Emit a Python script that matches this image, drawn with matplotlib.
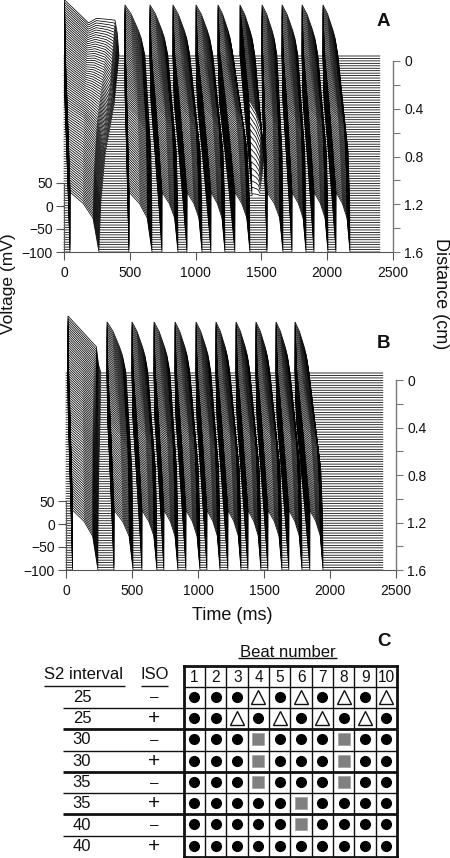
import numpy as np
import matplotlib
matplotlib.use("Agg")
import matplotlib.pyplot as plt

plt.rcParams['font.family'] = ['Liberation Sans', 'DejaVu Sans']

W, H = 450, 858
DIST = [0.02 * i for i in range(81)]
NODES_D = [0, 0.4, 0.8, 1.2, 1.6]
ACT_FRAC = [0, 0.10, 0.42, 0.72, 1]
REP_FRAC = [0, 0.42, 0.85, 0.98, 1]
FIRST_REP_FRAC = [0, 0.24, 0.68, 0.9, 1]

# panel A (ms); nan = beat blocked before the distal end
A_ACT_TOP = [4, 463, 653, 828, 1003, 1170, 1337, 1505, 1657, 1809, 1968]
A_REP_TOP = [418, 616, 790, 957, 1132, 1284, 1451, 1619, 1778, 1930, 2082]
A_ACT_BOT = [46, 494, 745, 935, 1117, 1299, np.nan, 1543, 1733, 1900, 2067]
A_REP_BOT = [266, 669, 866, 1049, 1223, 1413, np.nan, 1664, 1839, 2006, 2173]
A_FIRST_PH = [0, 0.44, 0.587, 0.926, 0.968, 1]
A_FIRST_V = [22, -28, -18, -22, -50, -100]

# panel B (ms)
B_ACT_TOP = [15, 311, 500, 667, 826, 985, 1136, 1288, 1439, 1591, 1735]
B_REP_TOP = [265, 455, 621, 788, 939, 1098, 1242, 1394, 1545, 1697, 1841]
B_ACT_BOT = [50, 364, 576, 742, 909, 1068, 1227, 1379, 1530, 1689, 1848]
B_REP_BOT = [242, 508, 689, 848, 1015, 1167, 1326, 1477, 1636, 1788, 1947]
B_FIRST_PH = [0, 0.86, 0.92, 1]
B_FIRST_V = [24, -43, -81, -100]

# action-potential shapes (phase of APD, mV)
TOP_PH = [0, 0.3, 0.62, 0.8, 1]
TOP_V = [11, -8, -39, -60, -100]
BOT_PH = [0, 0.45, 0.79, 1]
BOT_V = [30, 6, -26, -100]
BLOCK_D = 0.85      # panel A beat 7 dies out around here
BLOCK_END = 1.15
BLOCK_BEAT = 6
T = np.arange(0, 2401, 1.0)

X_TICKS = [0, 500, 1000, 1500, 2000, 2500]
V_TICKS = [-100, -50, 0, 50]
D_TICKS = [0, 0.2, 0.4, 0.6, 0.8, 1.0, 1.2, 1.4, 1.6]
D_LABELS = ['0', '', '0.4', '', '0.8', '', '1.2', '', '1.6']

S2 = ['25', '25', '30', '30', '35', '35', '40', '40']
ISO = ['–', '+', '–', '+', '–', '+', '–', '+']
BEATS = ['1', '2', '3', '4', '5', '6', '7', '8', '9', '10']
CODES = ['cccTcTcTcT',
         'ccTcTcTcTc',
         'cccScccScc',
         'cccScccScc',
         'cccScccScc',
         'cccccScccc',
         'cccccScccc',
         'cccccccccc']


def trace(d, act_top, rep_top, act_bot, rep_bot, ph1, v1, block=None):
    fa = np.interp(d, NODES_D, ACT_FRAC)
    fr = np.interp(d, NODES_D, REP_FRAC)
    fr1 = np.interp(d, NODES_D, FIRST_REP_FRAC)
    w = min(1.0, d / 0.9)
    v = np.full_like(T, -100.0)
    for i in range(len(act_top)):
        if block == i:
            a = act_top[i] + 130 * min(d, 1.6) / 1.6
            r = rep_top[i] + 70 * min(d, BLOCK_D) / BLOCK_D - 120 * max(0, d - BLOCK_D)
            amp = np.interp(d, [BLOCK_D, BLOCK_END], [1, 0])
        else:
            a = act_top[i] + (act_bot[i] - act_top[i]) * fa
            r = rep_top[i] + (rep_bot[i] - rep_top[i]) * (fr1 if i == 0 else fr)
            amp = 1.0
        if amp <= 0 or r <= a:
            continue
        p = (T - a) / (r - a)
        m = (p >= 0) & (p <= 1)
        vt = np.interp(p[m], ph1, v1) if i == 0 else np.interp(p[m], TOP_PH, TOP_V)
        vb = np.interp(p[m], BOT_PH, BOT_V)
        v[m] = -100 + amp * ((1 - w) * vt + w * vb + 100)
    return v


def panel(px, py, act_top, rep_top, act_bot, rep_bot, ph1, v1, d0y, xtop, block=None):
    x0, x1 = px
    ytop, ybot = py
    ax = fig.add_axes([x0 / W, 1 - ybot / H, (x1 - x0) / W, (ybot - ytop) / H])
    mv_per_px = 1 / 0.46
    ax.set_xlim(0, 2500)
    ax.set_ylim(-100, -100 + (ybot - ytop) * mv_per_px)
    ax.patch.set_alpha(0)
    off_span = (ybot - xtop) * mv_per_px
    for d in DIST:
        v = trace(d, act_top, rep_top, act_bot, rep_bot, ph1, v1, block)
        ax.plot(T, v + off_span * (1 - d / 1.6), color='black', lw=0.55, clip_on=False,
                solid_joinstyle='miter', zorder=2)
    for s in ('top', 'right'):
        ax.spines[s].set_visible(False)
    ax.spines['left'].set_bounds(-100, 50)
    for s in ('left', 'bottom'):
        ax.spines[s].set_color('#555555')
        ax.spines[s].set_linewidth(0.8)
        ax.spines[s].set_zorder(3)
    ax.set_xticks(X_TICKS)
    ax.set_yticks(V_TICKS)
    ax.set_yticklabels(['\u2212100', '\u221250', '0', '50'])
    ax.tick_params(length=6, width=0.8, color='#555555', labelsize=10, labelcolor='#111111')
    ax.tick_params(axis='x', pad=4)
    ax.tick_params(axis='y', pad=2)
    tw = ax.twinx()
    tw.set_ylim(1.6, -1.6 * (d0y - ytop) / (ybot - d0y))
    for s in ('top', 'left', 'bottom'):
        tw.spines[s].set_visible(False)
    tw.spines['right'].set_bounds(0, 1.6)
    tw.spines['right'].set_color('#777777')
    tw.spines['right'].set_linewidth(1.0)
    tw.set_yticks(D_TICKS)
    tw.set_yticklabels(D_LABELS)
    tw.tick_params(length=5, width=0.8, color='#777777', labelsize=10, pad=3, labelcolor='#111111')
    return ax


fig = plt.figure(figsize=(W / 100, H / 100), dpi=100)
panel((64, 393), (0, 252), A_ACT_TOP, A_REP_TOP, A_ACT_BOT, A_REP_BOT,
      A_FIRST_PH, A_FIRST_V, 61, 56, block=BLOCK_BEAT)
panel((66, 396), (310, 570), B_ACT_TOP, B_REP_TOP, B_ACT_BOT, B_REP_BOT,
      B_FIRST_PH, B_FIRST_V, 380, 373)

kw = dict(transform=fig.transFigure, color='#111111')
fig.text(9 / W, 1 - 284 / H, 'Voltage (mV)', rotation=90, ha='center', va='center', fontsize=12.5, **kw)
fig.text(441 / W, 1 - 294 / H, 'Distance (cm)', rotation=270, ha='center', va='center', fontsize=13, **kw)
fig.text(232 / W, 1 - 615 / H, 'Time (ms)', ha='center', va='center', fontsize=13, **kw)
fig.text(383 / W, 1 - 21 / H, 'A', ha='center', va='center', fontsize=13.5, fontweight='bold', **kw)
fig.text(384 / W, 1 - 343 / H, 'B', ha='center', va='center', fontsize=13.5, fontweight='bold', **kw)
fig.text(384 / W, 1 - 641 / H, 'C', ha='center', va='center', fontsize=13.5, fontweight='bold', **kw)

# Panel C table
tx0, tx1, ty0, ty1 = 183.5, 397, 665.5, 857
ax = fig.add_axes([tx0 / W, 1 - ty1 / H, (tx1 - tx0) / W, (ty1 - ty0) / H])
ax.set_xlim(0, 10)
ax.set_ylim(9, 0)
ax.axis('off')
px = (tx1 - tx0) / 10
for c in range(1, 10):
    ax.plot([c, c], [0, 9], color='#111111', lw=1.0, clip_on=False)
for r in range(1, 9):
    thick = r in (3, 5, 7)
    start = -120.5 / px if r > 1 else 0
    ax.plot([start, 10], [r, r], color='#111111', lw=2.0 if thick else 1.0, clip_on=False,
            solid_capstyle='butt')
for xs, ys in (([0, 10], [0, 0]), ([0, 10], [9, 9]), ([0, 0], [0, 9]), ([10, 10], [0, 9])):
    ax.plot(xs, ys, color='#111111', lw=2.0, clip_on=False, solid_capstyle='projecting')
for i, b in enumerate(BEATS):
    ax.text(i + 0.52, 0.58, b, ha='center', va='center', fontsize=11.2, color='#111111')
for r, row in enumerate(CODES):
    y = r + 1.47
    for c, code in enumerate(row):
        x = c + 0.5
        if code == 'c':
            ax.plot(x, y, 'o', ms=8.0, color='black', mec='black', mew=0, clip_on=False)
        elif code == 'T':
            ax.plot(x, y, '^', ms=10.0, mfc='white', mec='#111111', mew=1.0, clip_on=False)
        else:
            ax.plot(x, y, 's', ms=8.4, mfc='#808080', mec='#a0a0a0', mew=0.5, clip_on=False)
    ax.text((82 - tx0) / px, r + 1.5, S2[r], ha='center', va='center', fontsize=12, color='#111111')
    ax.text((154 - tx0) / px, r + 1.5, ISO[r], ha='center', va='center',
            fontsize=15 if ISO[r] == '+' else 11, color='#111111')
ax.text((84 - tx0) / px, 0.42, 'S2 interval', ha='center', va='center', fontsize=12, color='#111111')
ax.text((155 - tx0) / px, 0.42, 'ISO', ha='center', va='center', fontsize=12, color='#111111')
ax.text((287.5 - tx0) / px, -0.62, 'Beat number', ha='center', va='center', fontsize=12, color='#111111')
for a, b, yy in ((44, 125, 0.98), (141, 168, 0.98), (238, 337, -0.33)):
    ax.plot([(a - tx0) / px, (b - tx0) / px], [yy, yy], color='#111111', lw=1.0, clip_on=False,
            solid_capstyle='butt')

fig.savefig('out.png', dpi=100)
